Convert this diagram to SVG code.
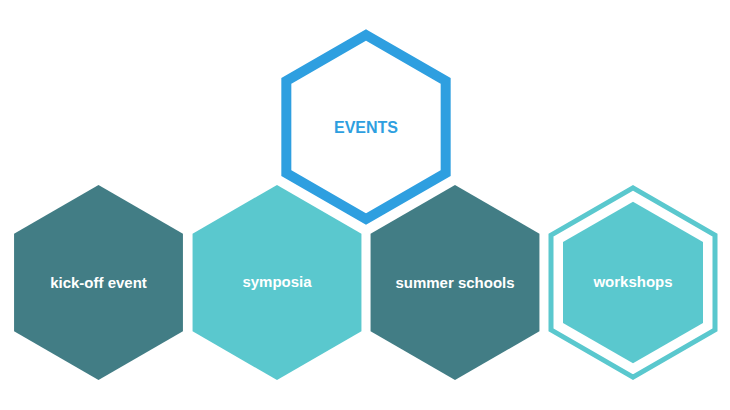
<svg xmlns="http://www.w3.org/2000/svg" width="730" height="410" viewBox="0 0 730 410">
<style>
.dark{fill:#427d85}
.light{fill:#5ac8ce}
.ring{fill:none;stroke:#5ac8ce;stroke-width:5;stroke-linejoin:miter}
.main{fill:#fff;stroke:#2e9fe0;stroke-width:10;stroke-linejoin:miter}
.lbl{font-family:"Liberation Sans",Arial,sans-serif;font-weight:bold;font-size:15px;fill:#fff;text-anchor:middle}
.title{font-family:"Liberation Sans",Arial,sans-serif;font-weight:bold;font-size:16px;fill:#2e9fe0;text-anchor:middle}
</style>
<rect width="730" height="410" fill="#fff"/>
<g id="events">
<polygon class="main" points="366,35 445.67,81 445.67,173 366,219 286.33,173 286.33,81"/>
<text class="title" x="366" y="133">EVENTS</text>
</g>
<g id="kickoff">
<polygon class="dark" points="98.5,185 182.94,233.75 182.94,331.25 98.5,380 14.06,331.25 14.06,233.75"/>
<text class="lbl" x="98.5" y="288">kick-off event</text>
</g>
<g id="symposia">
<polygon class="light" points="277,185 361.44,233.75 361.44,331.25 277,380 192.56,331.25 192.56,233.75"/>
<text class="lbl" x="277" y="287">symposia</text>
</g>
<g id="summerschools">
<polygon class="dark" points="455,185 539.44,233.75 539.44,331.25 455,380 370.56,331.25 370.56,233.75"/>
<text class="lbl" x="455" y="288">summer schools</text>
</g>
<g id="workshops">
<polygon class="ring" points="633,187.8 715,235.15 715,329.85 633,377.2 551,329.85 551,235.15"/>
<polygon class="light" points="633,201.7 703,242.1 703,322.9 633,363.3 563,322.9 563,242.1"/>
<text class="lbl" x="633" y="287">workshops</text>
</g>
<g id="connectors"/>
</svg>
